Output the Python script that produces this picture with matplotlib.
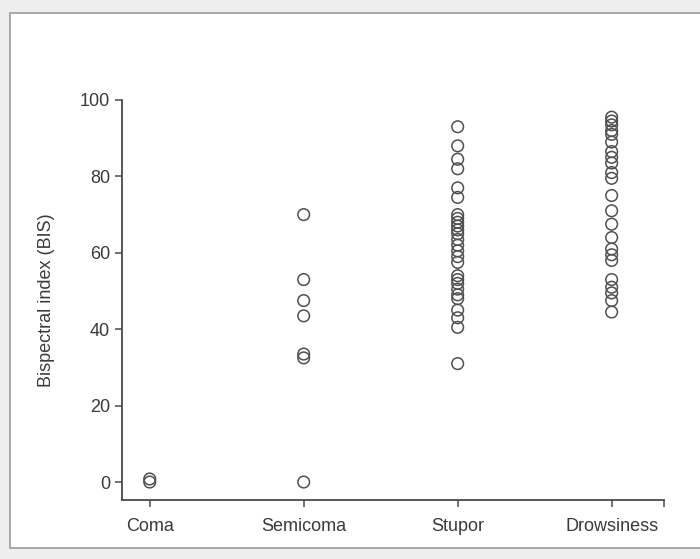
import matplotlib.pyplot as plt
from matplotlib.patches import Rectangle

# === Data ===
categories = ["Coma", "Semicoma", "Stupor", "Drowsiness"]
coma = [0, 0.8]
semicoma = [70, 53, 47.5, 43.5, 33.5, 32.5, 0]
stupor = [93, 88, 84.5, 82, 77, 74.5, 70, 69, 68, 67, 66, 65, 63.5, 62,
          60.5, 59, 57.5, 54, 53, 52, 50.5, 49, 48, 45, 43, 40.5, 31]
drowsiness = [95.5, 94.5, 93.5, 92, 91, 89, 86.5, 85, 83.5, 81, 79.5, 75,
              71, 67.5, 64, 61, 59.5, 58, 53, 51, 49.5, 47.5, 44.5]
groups = [coma, semicoma, stupor, drowsiness]
y_ticks = [0, 20, 40, 60, 80, 100]

plt.rcParams['font.family'] = ['Liberation Sans', 'DejaVu Sans']

fig = plt.figure(figsize=(7.0, 5.59), dpi=100, facecolor='#eeeeee')
# scanned page frame
fig.patches.append(Rectangle((10 / 700, 11 / 559), 1.0, 1 - 24 / 559,
                             transform=fig.transFigure, facecolor='white',
                             edgecolor='#9a9a9a', linewidth=1.2, zorder=-10))

ax = fig.add_axes([122 / 700, 1 - 500 / 559, 542 / 700, 400 / 559])
ax.set_facecolor('none')

for i, vals in enumerate(groups):
    ax.scatter([i] * len(vals), vals, s=70, facecolors='none',
               edgecolors='#505050', linewidths=1.1, zorder=3)

ax.set_xlim(-0.18, 3.34)
ax.set_ylim(-4.7, 100)
ax.set_xticks(range(len(categories)))
ax.set_xticklabels(categories)
ax.set_xticks([3.34], minor=True)
ax.set_yticks(y_ticks)
ax.set_ylabel("Bispectral index (BIS)", fontsize=13, color='#3a3a3a', labelpad=18)

for side in ['top', 'right']:
    ax.spines[side].set_visible(False)
for side in ['left', 'bottom']:
    ax.spines[side].set_color('#4a4a4a')
    ax.spines[side].set_linewidth(1.3)

ax.tick_params(axis='both', which='both', direction='out', length=5,
               width=1.1, color='#4a4a4a', labelsize=13, labelcolor='#3a3a3a')
ax.tick_params(axis='x', pad=8)

plt.savefig("out.png", dpi=100, facecolor=fig.get_facecolor())
